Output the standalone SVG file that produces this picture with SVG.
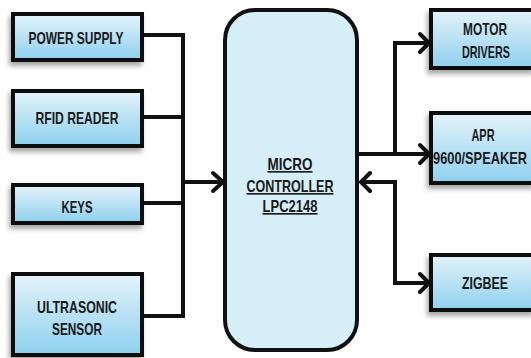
<svg xmlns="http://www.w3.org/2000/svg" width="531" height="358" viewBox="0 0 531 358">
<defs>
<linearGradient id="g" x1="0" y1="0" x2="0" y2="1">
<stop offset="0" stop-color="#e4f3fa"/>
<stop offset="1" stop-color="#8ed0ee"/>
</linearGradient>
<filter id="sh" x="-20%" y="-20%" width="140%" height="150%">
<feDropShadow dx="-2" dy="4" stdDeviation="2.5" flood-color="#000" flood-opacity="0.35"/>
</filter>
</defs>
<style>
.box{fill:url(#g);stroke:#111;stroke-width:4;filter:url(#sh)}
.mc{fill:#d6eef8;stroke:#111;stroke-width:4}
.t{font-family:"Liberation Sans",Arial,sans-serif;font-weight:bold;font-size:16.5px;fill:#1a1a1a;text-anchor:middle}
.ln{fill:none;stroke:#111;stroke-width:4;stroke-linejoin:miter}
.ah{fill:none;stroke:#111;stroke-width:4;stroke-linecap:round;stroke-linejoin:round}
</style>
<rect width="531" height="358" fill="#fff"/>
<g id="connectors">
<path class="ln" d="M142 35H183V316H142M142 117H183M142 203H183M183 182H222"/>
<path class="ah" d="M213 173L223 182L213 191"/>
<path class="ln" d="M357 154H395M395 154V43H428M395 154H428"/>
<path class="ah" d="M420 34L429 43L420 52M420 145L429 154L420 163"/>
<path class="ln" d="M361 182H395V283H428"/>
<path class="ah" d="M370 173L361 182L370 191M420 274L429 283L420 292"/>
</g>
<g id="power"><rect class="box" x="13" y="14" width="129" height="46"/><text class="t" x="76" y="44" textLength="95" lengthAdjust="spacingAndGlyphs">POWER SUPPLY</text></g>
<g id="rfid"><rect class="box" x="13" y="91" width="129" height="55"/><text class="t" x="77" y="124" textLength="83" lengthAdjust="spacingAndGlyphs">RFID READER</text></g>
<g id="keys"><rect class="box" x="13" y="185" width="129" height="38"/><text class="t" x="77" y="213" textLength="31" lengthAdjust="spacingAndGlyphs">KEYS</text></g>
<g id="ultra"><rect class="box" x="13" y="274" width="129" height="81"/><text class="t" x="77" y="313" textLength="80" lengthAdjust="spacingAndGlyphs">ULTRASONIC</text><text class="t" x="77" y="335" textLength="50" lengthAdjust="spacingAndGlyphs">SENSOR</text></g>
<g id="micro"><rect class="mc" x="225" y="10" width="132" height="340" rx="30"/>
<text class="t" x="290" y="170" text-decoration="underline" textLength="45" lengthAdjust="spacingAndGlyphs">MICRO</text>
<text class="t" x="290" y="192" text-decoration="underline" textLength="87" lengthAdjust="spacingAndGlyphs">CONTROLLER</text>
<text class="t" x="290" y="212" text-decoration="underline" textLength="55" lengthAdjust="spacingAndGlyphs">LPC2148</text></g>
<g id="motor"><rect class="box" x="431" y="10" width="102" height="58"/><text class="t" transform="translate(485 35) scale(0.7 1)" textLength="62.9" lengthAdjust="spacingAndGlyphs">MOTOR</text><text class="t" transform="translate(486 58) scale(0.7 1)" textLength="68.6" lengthAdjust="spacingAndGlyphs">DRIVERS</text></g>
<g id="apr"><rect class="box" x="431" y="113" width="102" height="70"/><text class="t" transform="translate(483 141) scale(0.7 1)" textLength="32.9" lengthAdjust="spacingAndGlyphs">APR</text><text class="t" transform="translate(480 164) scale(0.7 1)" textLength="134" lengthAdjust="spacingAndGlyphs">9600/SPEAKER</text></g>
<g id="zigbee"><rect class="box" x="431" y="255" width="102" height="55"/><text class="t" transform="translate(485 289) scale(0.7 1)" textLength="65.7" lengthAdjust="spacingAndGlyphs">ZIGBEE</text></g>
</svg>
